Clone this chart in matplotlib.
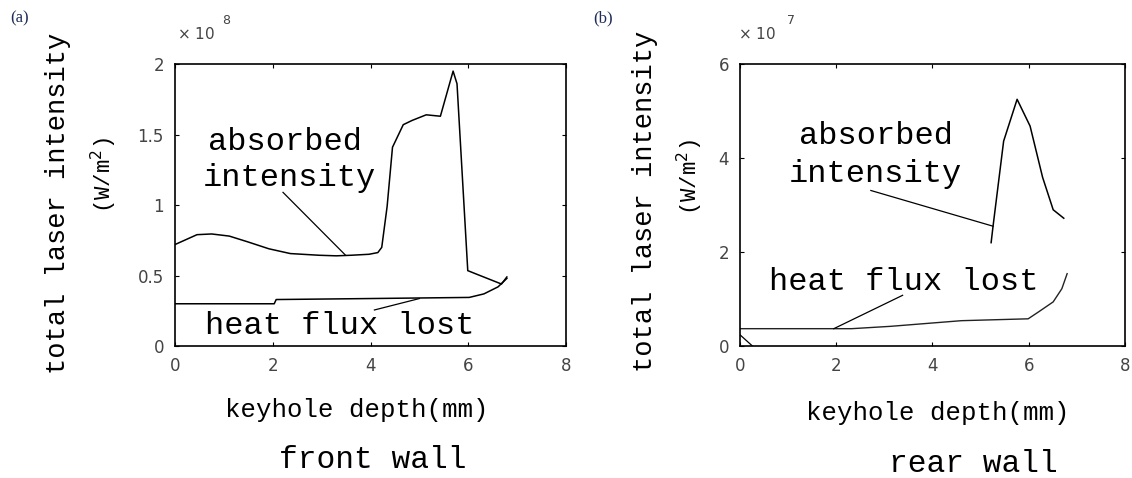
import matplotlib
matplotlib.use("Agg")
import matplotlib.pyplot as plt

# front wall (a), values in 1e8 W/m^2
front_x = [0, 0.45, 0.75, 1.11, 1.48, 1.92, 2.36, 2.95, 3.3, 3.6, 3.97, 4.15, 4.23,
           4.34, 4.45, 4.67, 4.85, 5.14, 5.43, 5.69, 5.77, 5.99, 6.17, 6.68, 6.79]
front_abs = [0.72, 0.79, 0.795, 0.78, 0.74, 0.69, 0.656, 0.644, 0.64, 0.644, 0.651, 0.663, 0.70,
             0.99, 1.41, 1.57, 1.60, 1.64, 1.63, 1.95, 1.86, 0.535, 0.51, 0.44, 0.49]
front_loss_x = [0, 2.03, 2.07, 3.97, 6.02, 6.32, 6.61, 6.79]
front_loss = [0.30, 0.30, 0.33, 0.337, 0.345, 0.37, 0.42, 0.48]

# rear wall (b), values in 1e7 W/m^2
rear_x = [5.22, 5.26, 5.48, 5.76, 6.03, 6.29, 6.51, 6.73]
rear_abs = [2.20, 2.55, 4.36, 5.25, 4.68, 3.59, 2.90, 2.72]
rear_loss_x = [0, 2.32, 3.13, 4.6, 5.99, 6.21, 6.51, 6.69, 6.8]
rear_loss = [0.37, 0.37, 0.42, 0.54, 0.58, 0.73, 0.94, 1.22, 1.54]
rear_tail_x = [0, 0.26]
rear_tail = [0.24, 0]

mono = "Liberation Mono"

fig = plt.figure(figsize=(11.32, 4.78), dpi=100)
ax1 = fig.add_axes([0.1546, 0.276, 0.3454, 0.590])
ax2 = fig.add_axes([0.6537, 0.276, 0.3400, 0.590])

for ax in (ax1, ax2):
    ax.set_xlim(0, 8)
    ax.set_xticks([0, 2, 4, 6, 8])
    ax.tick_params(direction="in", length=3, top=True, right=True, labelsize=12,
                   labelcolor="#444444", pad=8)
    for s in ax.spines.values():
        s.set_linewidth(1.2)

ax1.set_ylim(0, 2)
ax1.set_yticks([0, 0.5, 1, 1.5, 2])
ax1.set_yticklabels(["0", "0.5", "1", "1.5", "2"])
ax1.plot(front_x, front_abs, color="black", lw=1.1)
ax1.plot(front_loss_x, front_loss, color="black", lw=1.1)
ax1.plot([2.21, 3.49], [1.09, 0.644], color="black", lw=0.9)
ax1.plot([4.08, 5.0], [0.256, 0.337], color="black", lw=0.9)
ax1.text(2.25, 1.45, "absorbed", family=mono, fontsize=23, ha="center", va="center")
ax1.text(2.35, 1.19, "intensity", family=mono, fontsize=23, ha="center", va="center")
ax1.text(3.38, 0.14, "heat flux lost", family=mono, fontsize=23, ha="center", va="center")

ax2.set_ylim(0, 6)
ax2.set_yticks([0, 2, 4, 6])
ax2.plot(rear_x, rear_abs, color="black", lw=1.1)
ax2.plot(rear_loss_x, rear_loss, color="#222222", lw=1.0)
ax2.plot(rear_tail_x, rear_tail, color="black", lw=0.9)
ax2.plot([2.72, 5.26], [3.31, 2.55], color="black", lw=0.9)
ax2.plot([1.95, 3.38], [0.37, 1.08], color="black", lw=0.9)
ax2.text(2.83, 4.47, "absorbed", family=mono, fontsize=23, ha="center", va="center")
ax2.text(2.81, 3.66, "intensity", family=mono, fontsize=23, ha="center", va="center")
ax2.text(3.41, 1.36, "heat flux lost", family=mono, fontsize=23, ha="center", va="center")

W, H = 1132, 478

def ftext(x, y, s, **kw):
    fig.text(x / W, 1 - y / H, s, **kw)

# panel letters
ftext(20, 18, "(a)", family="Liberation Serif", fontsize=12, color="#1f2d5c", ha="center", va="center")
ftext(603, 18, "(b)", family="Liberation Serif", fontsize=12, color="#1f2d5c", ha="center", va="center")

# exponent labels
ftext(177, 34, r"$\times$ 10", fontsize=11, color="#444444", ha="left", va="center")
ftext(222, 20, "8", fontsize=9, color="#444444", ha="left", va="center")
ftext(738, 34, r"$\times$ 10", fontsize=11, color="#444444", ha="left", va="center")
ftext(787, 20, "7", fontsize=9, color="#444444", ha="left", va="center")

# y labels
ftext(58, 203, "total laser intensity", family=mono, fontsize=19.5, rotation=90, ha="center", va="center")
ftext(104, 175, r"(W/m$^{2}$)", family=mono, fontsize=16, rotation=90, ha="center", va="center")
ftext(645, 201, "total laser intensity", family=mono, fontsize=19.5, rotation=90, ha="center", va="center")
ftext(690, 177, r"(W/m$^{2}$)", family=mono, fontsize=16, rotation=90, ha="center", va="center")

# x labels and titles
ftext(357, 410, "keyhole depth(mm)", family=mono, fontsize=18.5, ha="center", va="center")
ftext(938, 413, "keyhole depth(mm)", family=mono, fontsize=18.5, ha="center", va="center")
ftext(373, 460, "front wall", family=mono, fontsize=22.5, ha="center", va="center")
ftext(973, 464, "rear wall", family=mono, fontsize=22.5, ha="center", va="center")

fig.savefig("out.png", dpi=100)
